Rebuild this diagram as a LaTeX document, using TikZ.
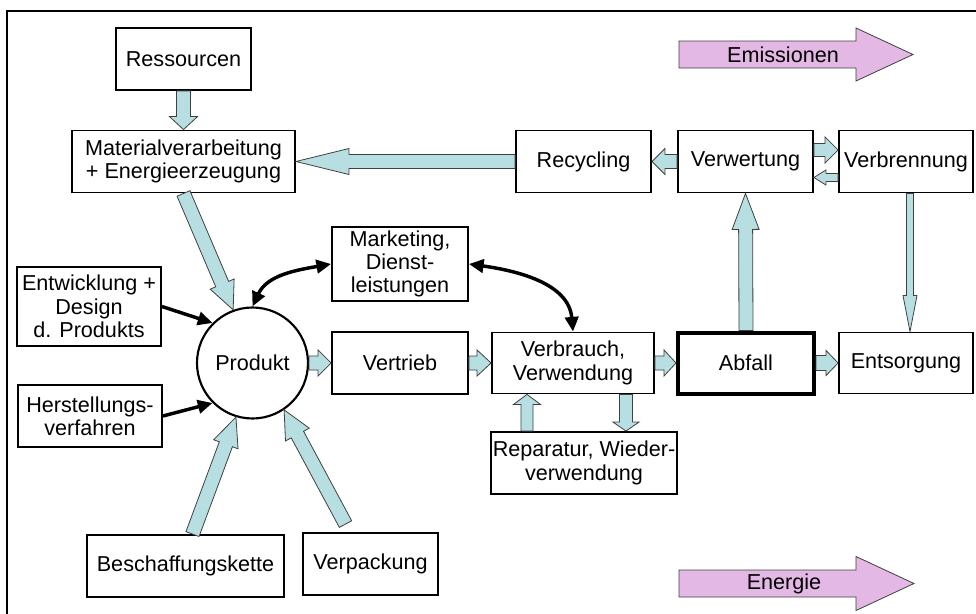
\documentclass[tikz,border=0pt]{standalone}
\usepackage{fontspec}
\setmainfont{Liberation Sans}
\usetikzlibrary{calc,arrows.meta}

\definecolor{flowcyan}{RGB}{183,222,224}
\definecolor{flowpink}{RGB}{228,184,228}

% broad block arrow: [style] {from} {to} {shaft} {head} {head length}, sizes in px
\newcommand{\fatarrow}[6][]{%
  \pgfmathsetlengthmacro{\fashaft}{#4*0.375pt}%
  \pgfmathsetlengthmacro{\fahead}{#5*0.375pt}%
  \pgfmathsetlengthmacro{\falen}{#6*0.75pt}%
  \coordinate (fa-base) at ($(#3)!\falen!(#2)$);
  \path[flow,#1] ($(#2)!\fashaft!90:(#3)$) -- ($(fa-base)!\fashaft!90:(#3)$)
    -- ($(fa-base)!\fahead!90:(#3)$) -- (#3) -- ($(fa-base)!\fahead!-90:(#3)$)
    -- ($(fa-base)!\fashaft!-90:(#3)$) -- ($(#2)!\fashaft!-90:(#3)$) -- cycle;
}

\begin{document}
\begin{tikzpicture}[x=0.75pt,y=-0.75pt,
    font=\fontsize{16.2}{17.5}\selectfont,
    flow/.style={draw=black!75, line width=0.6pt, fill=flowcyan},
    pinkflow/.style={fill=flowpink},
    >={Triangle[length=11pt,width=10pt]}]
  \useasboundingbox (0,0) rectangle (976,614);
  \draw[line width=0.8pt] (976,11) -- (7,11) -- (7,614);

  \begin{scope}[every node/.style = {draw, line width=1.4pt, inner sep=0pt, align=center,
      minimum width=101.25pt, minimum height=46.5pt}]
    \node (res) at (183.5,59) {Ressourcen};
    \node (mat) at (183.5,161.5) [minimum width=167.25pt] {Materialverarbeitung\\+ Energieerzeugung};
    \node (rec) at (583.5,161.5) {Recycling};
    \node (verw) at (745.5,161.5) {Verwertung};
    \node (verb) at (906,161.5) [minimum width=100.5pt] {Verbrennung};
    \node (mkt) at (400,264) [minimum width=102pt, minimum height=55.5pt] {Marketing,\\Dienst-\\leistungen};
    \node (ent) at (89,306.5) [minimum width=108pt, minimum height=59.25pt] {Entwicklung +\\Design\\d. Produkts};
    \node (her) at (90,416) [minimum width=108pt] {Herstellungs-\\verfahren};
    \node (prod) at (252.5,363) [circle, line width=1.6pt, minimum size=83.25pt] {Produkt};
    \node (vtr) at (400,363) [minimum width=102pt] {Vertrieb};
    \node (vbr) at (573,363) [minimum width=121.5pt, minimum height=45.75pt] {Verbrauch,\\Verwendung};
    \node (abf) at (746,363) [line width=3pt, minimum width=102pt, minimum height=45.75pt] {Abfall};
    \node (ents) at (906,363) [minimum width=100.5pt, minimum height=45.75pt] {Entsorgung};
    \node (rep) at (584,463) [minimum width=139.5pt] {Reparatur, Wieder-\\verwendung};
    \node (besch) at (185.5,566) [minimum width=147.75pt] {Beschaffungskette};
    \node (verp) at (370.5,564) {Verpackung};
  \end{scope}

  \coordinate (vv1) at ($(verw.east)+(0,-11.5)$);
  \coordinate (vv2) at ($(verb.west)+(0,-11.5)$);
  \coordinate (vv3) at ($(verb.west)+(0,16)$);
  \coordinate (vv4) at ($(verw.east)+(0,16)$);
  \coordinate (ve1) at ($(verb.south)+(4,0)$);
  \coordinate (ve2) at ($(ents.north)+(4,0)$);
  \coordinate (rv1) at ($(rep.north)+(-57,0)$);
  \coordinate (rv2) at ($(vbr.south)+(-46,0)$);
  \coordinate (rv3) at ($(vbr.south)+(53,0)$);
  \coordinate (rv4) at ($(rep.north)+(42,0)$);
  \coordinate (bp1) at ($(besch.north)+(7,0)$);
  \coordinate (vp1) at ($(verp.north)+(-25,-8)$);
  \coordinate (em1) at (679,54.5);
  \coordinate (em2) at (913,54.5);
  \coordinate (en1) at (679,583.5);
  \coordinate (en2) at (914,583.5);

  \fatarrow{res.south}{mat.north}{14}{28}{13}
  \fatarrow{rec.west}{mat.east}{14}{26}{53}
  \fatarrow{verw.west}{rec.east}{14}{26}{13}
  \fatarrow{vv1}{vv2}{13}{26}{13}
  \fatarrow{vv3}{vv4}{8}{15}{12}
  \fatarrow{ve1}{ve2}{7}{14}{36}
  \fatarrow{abf.north}{verw.south}{14}{27}{36}
  \fatarrow{abf.east}{ents.west}{15}{25}{12}
  \fatarrow{prod.east}{vtr.west}{14}{26}{13}
  \fatarrow{vtr.east}{vbr.west}{14}{26}{14}
  \fatarrow{vbr.east}{abf.west}{14}{26}{12}
  \fatarrow{rv1}{rv2}{12}{27}{10}
  \fatarrow{rv3}{rv4}{13}{26}{9}
  \fatarrow{mat.south}{prod.110}{14}{26}{28}
  \fatarrow{bp1}{prod.253}{14}{26}{29}
  \fatarrow{vp1}{prod.-56}{14}{27}{28}

  \fatarrow[pinkflow]{em1}{em2}{27}{53}{57}
  \fatarrow[pinkflow]{en1}{en2}{27}{54}{58}
  \node (emi) at (783,54.5) {Emissionen};
  \node (ene) at (784,583.5) {Energie};

  \begin{scope}[every edge/.style = {draw, line width=2.6pt, ->}]
    \path (ent.east) edge[] (prod.135);
    \path (her.east) edge[] (prod.225);
    \path (mkt.west) edge[<->, out=190, in=65] (prod.north);
    \path (mkt.east) edge[<->, out=-8, in=95] (vbr.north);
  \end{scope}
\end{tikzpicture}
\end{document}
